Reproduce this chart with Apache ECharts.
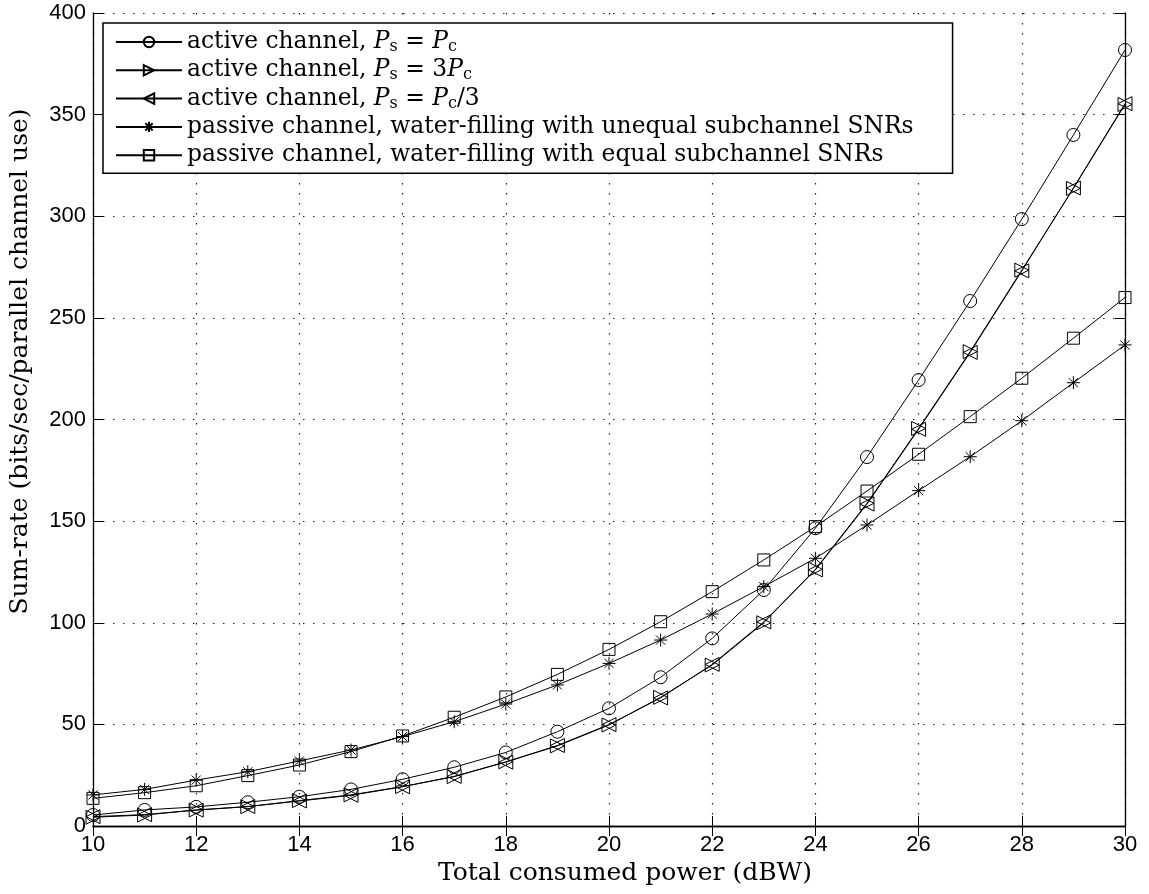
<!DOCTYPE html>
<html lang="en">
<head>
    <meta charset="utf-8" />
    <title>Sum-rate vs total consumed power</title>
    <script type="text/javascript" src="https://cdn.jsdelivr.net/npm/echarts@6/dist/echarts.min.js"></script>
    <style type="text/css">
        html, body { margin: 0; padding: 0; background: #fff; }
        #main { width: 1149px; height: 894px; }
    </style>
</head>
<body>
    <div id="main"></div>

    <script type="text/javascript">

        // total consumed power (dBW)
        var powerDbw = [10, 11, 12, 13, 14, 15, 16, 17, 18, 19, 20, 21, 22, 23, 24, 25, 26, 27, 28, 29, 30];

        // sum-rate
        var rateActiveEq = [5.4, 7.9, 9.4, 11.7, 14.4, 18.0, 23.0, 28.9, 36.2, 46.4, 57.9, 73.2, 92.3, 116.1, 146.5, 181.5, 219.4, 258.3, 298.6, 340.0, 381.8];
        var rateActive3x = [4.3, 5.4, 7.9, 9.5, 12.5, 15.3, 19.4, 24.3, 31.6, 39.4, 49.7, 63.3, 79.2, 100.0, 126.3, 158.8, 195.6, 233.4, 273.5, 313.7, 355.0];
        var rateActiveThird = [4.6, 5.6, 7.8, 9.6, 12.3, 15.1, 19.3, 24.4, 31.4, 39.6, 49.9, 63.0, 79.5, 100.4, 126.0, 158.4, 195.2, 233.0, 273.1, 313.9, 355.4];
        var ratePassiveUnequal = [15.3, 18.0, 22.6, 26.7, 32.0, 37.4, 44.0, 51.3, 60.0, 69.4, 80.0, 91.5, 104.3, 117.8, 131.7, 148.1, 165.0, 181.7, 199.4, 218.1, 236.7];
        var ratePassiveEqual = [13.6, 16.4, 19.8, 24.8, 30.0, 36.6, 44.3, 53.5, 63.5, 74.6, 86.9, 100.5, 115.3, 130.9, 147.3, 164.8, 182.9, 201.4, 220.3, 240.0, 260.0];

        var seriesNames = [
            'active channel, Ps = Pc',
            'active channel, Ps = 3Pc',
            'active channel, Ps = Pc/3',
            'passive channel, water-filling with unequal subchannel SNRs',
            'passive channel, water-filling with equal subchannel SNRs'
        ];
        var legendRich = {
            'active channel, Ps = Pc': 'active channel, {i|P}{s|s} = {i|P}{s|c}',
            'active channel, Ps = 3Pc': 'active channel, {i|P}{s|s} = 3{i|P}{s|c}',
            'active channel, Ps = Pc/3': 'active channel, {i|P}{s|s} = {i|P}{s|c}/3'
        };

        var serifFont = 'DejaVu Serif';
        var sansFont = 'Liberation Sans';

        function makeSeries(name, values, symbol, size) {
            return {
                name: name,
                type: 'line',
                data: powerDbw.map(function (x, i) { return [x, values[i]]; }),
                symbol: symbol,
                symbolSize: size,
                showSymbol: true,
                clip: false,
                lineStyle: { color: '#000', width: 1 },
                itemStyle: { color: 'rgba(0,0,0,0)', borderColor: '#000', borderWidth: 1 },
                emphasis: { disabled: true },
                silent: true
            };
        }

        var axisLineStyle = { color: '#000', width: 1.3 };
        var tickStyle = { inside: true, length: 10, lineStyle: { color: '#000', width: 1 } };
        var gridLine = { show: true, lineStyle: { color: '#222', type: [1.5, 8.5], width: 1.2 } };

        var myChart = echarts.init(document.getElementById('main'));

        var option = {
            animation: false,
            backgroundColor: '#fff',
            grid: { left: 92, right: 24, top: 13, bottom: 68 },
            legend: {
                data: seriesNames,
                orient: 'vertical',
                left: 103,
                top: 23,
                padding: [6, 39, 5, 12],
                itemGap: 2.3,
                itemWidth: 66,
                itemHeight: 13,
                backgroundColor: '#fff',
                borderColor: '#000',
                borderWidth: 1.5,
                selectedMode: false,
                formatter: function (name) {
                    return legendRich[name] || name;
                },
                textStyle: {
                    color: '#000',
                    fontFamily: serifFont,
                    fontSize: 23.4,
                    lineHeight: 26,
                    rich: {
                        i: { color: '#000', fontFamily: serifFont, fontStyle: 'italic', fontSize: 23.4, lineHeight: 26 },
                        s: { color: '#000', fontFamily: serifFont, fontSize: 16, verticalAlign: 'bottom' }
                    }
                }
            },
            xAxis: [{
                type: 'value',
                min: 10,
                max: 30,
                interval: 2,
                position: 'bottom',
                axisLine: { show: true, lineStyle: axisLineStyle },
                axisTick: tickStyle,
                axisLabel: { color: '#000', fontFamily: sansFont, fontSize: 22, margin: 8 },
                splitLine: gridLine,
                name: 'Total consumed power (dBW)',
                nameLocation: 'middle',
                nameGap: 33,
                nameTextStyle: { color: '#000', fontFamily: serifFont, fontSize: 25, padding: [0, 0, 0, 32] }
            }, {
                type: 'value',
                min: 10,
                max: 30,
                interval: 2,
                position: 'top',
                axisLine: { show: true, lineStyle: axisLineStyle },
                axisTick: tickStyle,
                axisLabel: { show: false },
                splitLine: { show: false }
            }],
            yAxis: [{
                type: 'value',
                min: 0,
                max: 400,
                interval: 50,
                position: 'left',
                axisLine: { show: true, lineStyle: axisLineStyle },
                axisTick: tickStyle,
                axisLabel: { color: '#000', fontFamily: sansFont, fontSize: 22, margin: 7 },
                splitLine: gridLine,
                name: 'Sum-rate (bits/sec/parallel channel use)',
                nameLocation: 'middle',
                nameRotate: 90,
                nameGap: 60,
                nameTextStyle: { color: '#000', fontFamily: serifFont, fontSize: 25, padding: [0, 0, 0, 116] }
            }, {
                type: 'value',
                min: 0,
                max: 400,
                interval: 50,
                position: 'right',
                axisLine: { show: true, lineStyle: axisLineStyle },
                axisTick: tickStyle,
                axisLabel: { show: false },
                splitLine: { show: false }
            }],
            series: [
                makeSeries(seriesNames[0], rateActiveEq, 'circle', 13),
                makeSeries(seriesNames[1], rateActive3x, 'path://M0,0L10,5L0,10Z', 14),
                makeSeries(seriesNames[2], rateActiveThird, 'path://M10,0L0,5L10,10Z', 14),
                makeSeries(seriesNames[3], ratePassiveUnequal, 'path://M5,0L5,10M0,5L10,5M1.5,1.5L8.5,8.5M8.5,1.5L1.5,8.5', 13),
                makeSeries(seriesNames[4], ratePassiveEqual, 'rect', 12)
            ]
        };
        myChart.setOption(option, true);

    </script>
</body>
</html>
